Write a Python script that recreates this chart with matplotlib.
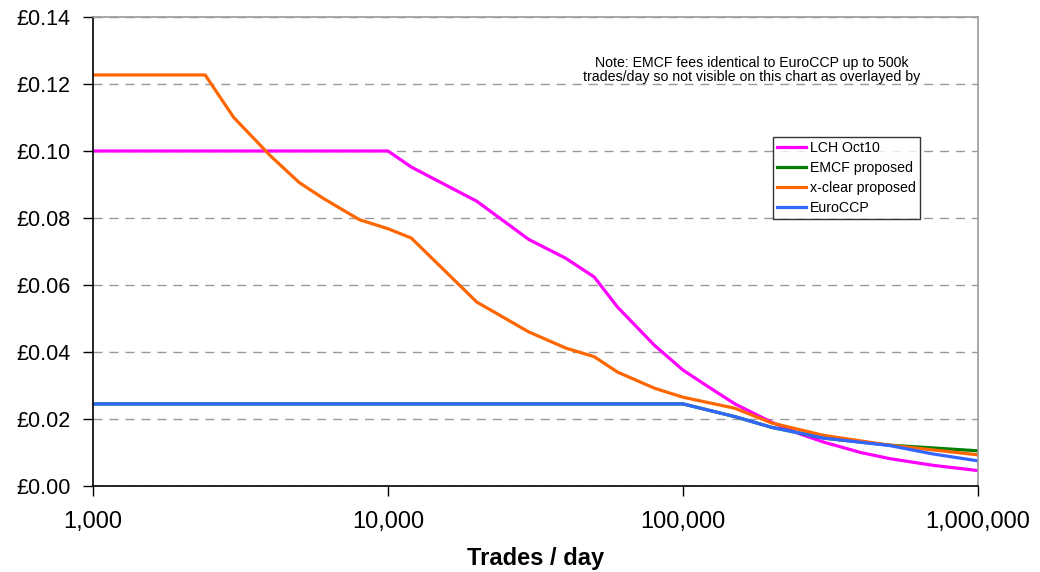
import matplotlib
matplotlib.use("Agg")
import matplotlib.pyplot as plt
from matplotlib.ticker import FixedLocator, FuncFormatter, NullLocator

plt.rcParams['font.family'] = ['Liberation Sans', 'DejaVu Sans']

# Data
lch_x = [1000, 10000, 12000, 20000, 30000, 40000, 50000, 60000, 80000, 100000,
         120000, 150000, 200000, 250000, 300000, 400000, 500000, 700000, 1000000]
lch_y = [0.100, 0.100, 0.0952, 0.085, 0.0736, 0.068, 0.0624, 0.0534, 0.0420, 0.0346,
         0.0300, 0.0245, 0.0190, 0.0155, 0.0131, 0.0100, 0.0082, 0.0062, 0.0046]

emcf_x = [1000, 100000, 150000, 200000, 300000, 500000, 1000000]
emcf_y = [0.0245, 0.0245, 0.0207, 0.0175, 0.0143, 0.0122, 0.0105]

xclear_x = [1000, 2400, 3000, 4000, 5000, 6000, 7000, 8000, 10000, 12000, 20000,
            30000, 40000, 50000, 60000, 80000, 100000, 150000, 200000, 300000,
            500000, 1000000]
xclear_y = [0.1227, 0.1227, 0.110, 0.0985, 0.0906, 0.0860, 0.0825, 0.0795, 0.0768,
            0.0740, 0.0549, 0.0460, 0.0412, 0.0386, 0.0340, 0.0292, 0.0265, 0.0232,
            0.0188, 0.0151, 0.0122, 0.0093]

euro_x = [1000, 100000, 150000, 200000, 300000, 500000, 700000, 1000000]
euro_y = [0.0245, 0.0245, 0.0207, 0.0175, 0.0143, 0.0121, 0.0096, 0.0075]

series_names = ["LCH Oct10", "EMCF proposed", "x-clear proposed", "EuroCCP"]
x_ticks = [1000, 10000, 100000, 1000000]
y_ticks = [0.00, 0.02, 0.04, 0.06, 0.08, 0.10, 0.12, 0.14]

fig = plt.figure(figsize=(10.4, 5.72), dpi=100)
ax = fig.add_axes([93/1040, 1 - 486/572, (978 - 93)/1040, (486 - 17)/572])

lw = 2.3
ax.plot(lch_x, lch_y, color='#FF00FF', lw=lw, label=series_names[0])
ax.plot(emcf_x, emcf_y, color='#008000', lw=lw, label=series_names[1])
ax.plot(xclear_x, xclear_y, color='#FF6600', lw=lw, label=series_names[2])
ax.plot(euro_x, euro_y, color='#3366FF', lw=lw, label=series_names[3])

ax.set_xscale('log')
ax.set_xlim(1000, 1000000)
ax.set_ylim(0, 0.14)
ax.xaxis.set_major_locator(FixedLocator(x_ticks))
ax.xaxis.set_minor_locator(NullLocator())
ax.xaxis.set_major_formatter(FuncFormatter(lambda v, p: f"{int(round(v)):,}"))
ax.yaxis.set_major_locator(FixedLocator(y_ticks))
ax.yaxis.set_major_formatter(FuncFormatter(lambda v, p: f"£{v:.2f}"))

ax.tick_params(axis='y', direction='out', length=7, width=1, labelsize=15.5, pad=9)
ax.tick_params(axis='x', direction='out', length=7, width=1, labelsize=17, pad=11)

ax.grid(axis='y', linestyle=(0, (6.5, 5)), color='#999999', lw=1)
ax.set_axisbelow(True)

for s in ['left', 'bottom']:
    ax.spines[s].set_color('black')
    ax.spines[s].set_linewidth(1.2)
for s in ['top', 'right']:
    ax.spines[s].set_color('#999999')
    ax.spines[s].set_linewidth(1.2)

ax.set_xlabel("Trades / day", fontsize=17, fontweight='bold', labelpad=10)

fig.text(752/1040, 1 - 70/572,
         "Note: EMCF fees identical to EuroCCP up to 500k\ntrades/day so not visible on this chart as overlayed by",
         ha='center', va='center', fontsize=10.2, linespacing=1.05)

leg = fig.legend(loc='upper left', bbox_to_anchor=(773/1040, 1 - 137/572),
                 borderaxespad=0, fontsize=10.2, frameon=True, fancybox=False,
                 edgecolor='black', handlelength=2.0, handletextpad=0.3,
                 labelspacing=0.42, borderpad=0.3)
leg.get_frame().set_linewidth(1.0)

fig.savefig("out.png", dpi=100, facecolor='white')
